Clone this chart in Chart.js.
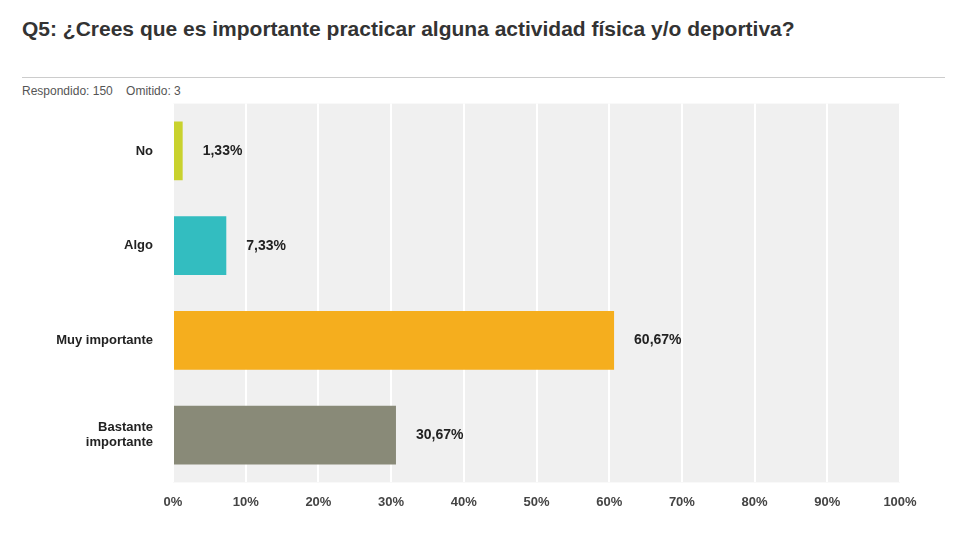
<!DOCTYPE html>
<html><head><meta charset="utf-8">
<script src="https://cdn.jsdelivr.net/npm/chart.js@4/dist/chart.umd.min.js"></script>
<style>
body{margin:0;background:#fff;font-family:Arial,"Liberation Sans",sans-serif;}
#t{position:absolute;left:22px;top:14px;font-size:21px;font-weight:bold;color:#333;line-height:29px;width:790px}
#hr{position:absolute;left:22px;top:77px;width:923px;border-top:1px solid #ccc}
#s{position:absolute;left:22px;top:84px;font-size:12px;color:#555}
#c{position:absolute;left:0;top:76px;width:960px;height:446px}
</style></head><body>
<div id="t">Q5: ¿Crees que es importante practicar alguna actividad física y/o deportiva?</div>
<div id="hr"></div>
<div id="s">Respondido: 150&nbsp;&nbsp;&nbsp;&nbsp;Omitido: 3</div>
<div id="c"><canvas id="cv"></canvas></div>
<script>
const categories=[["No"],["Algo"],["Muy importante"],["Bastante","importante"]];
const values=[1.33,7.33,60.67,30.67];
const valueLabels=["1,33%","7,33%","60,67%","30,67%"];
const colors=["#c9d22e","#33bdc0","#f5ae1e","#898a78"];
const bg={id:'bg',beforeDraw(c){const a=c.chartArea,x=c.ctx;x.save();x.fillStyle='#f0f0f0';x.fillRect(a.left,a.top,a.right-a.left,a.bottom-a.top);x.restore();}};
const lbl={id:'lbl',afterDatasetsDraw(c){const x=c.ctx;x.save();x.font='bold 14px Arial';x.fillStyle='#222';x.textBaseline='middle';
c.getDatasetMeta(0).data.forEach((b,i)=>{x.fillText(valueLabels[i],b.x+20,b.y);});x.restore();}};
new Chart(document.getElementById('cv'),{type:'bar',
data:{labels:categories,datasets:[{data:values,backgroundColor:colors,barPercentage:0.62,categoryPercentage:1}]},
options:{indexAxis:'y',responsive:true,maintainAspectRatio:false,animation:false,
layout:{padding:{left:10,right:60,top:8,bottom:0}},
plugins:{legend:{display:false},tooltip:{enabled:false}},
scales:{x:{min:0,max:100,ticks:{stepSize:10,callback:v=>v+'%',color:'#444',font:{size:13,weight:'bold'},padding:12},grid:{color:'#fff',lineWidth:2,drawTicks:false},border:{display:false}},
y:{ticks:{color:'#222',font:{size:13,weight:'bold'},padding:12},grid:{display:false},border:{display:false},afterFit(s){s.width=163;}}}}
,plugins:[bg,lbl]});
</script></body></html>
